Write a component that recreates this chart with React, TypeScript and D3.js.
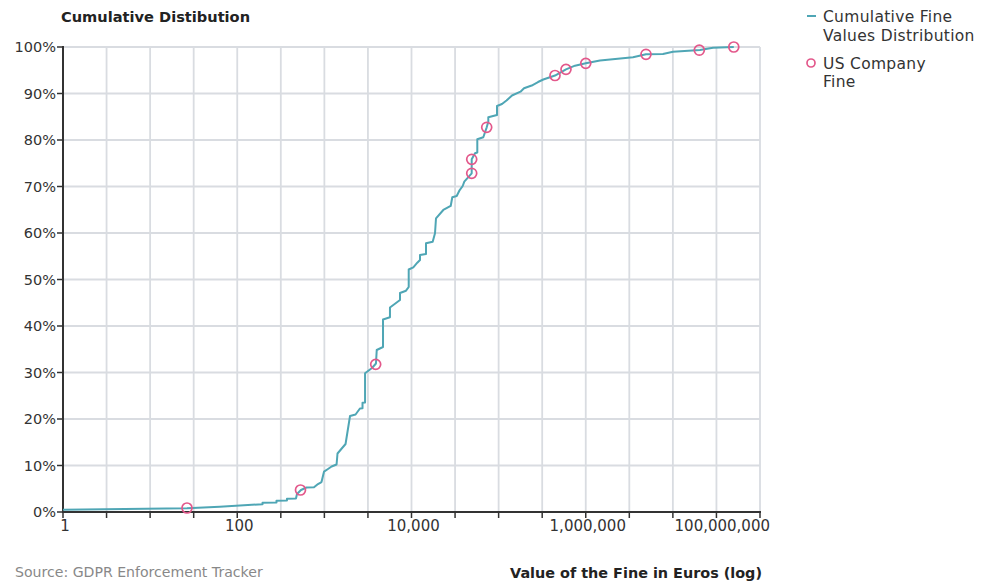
import React from "react";
import * as d3 from "d3";

// cumulative distribution of fine values
const fineValues = [
  1, 26.5, 63, 195, 195, 282, 282, 372, 372, 472, 485, 539, 623, 760, 845, 927,
  990, 1100, 1210, 1380, 1415, 1750, 1970, 2280, 2560, 2740, 2740, 2930, 2930,
  3520, 3910, 3990, 4710, 4710, 5660, 5660, 7380, 7380, 8650, 9290, 9290, 10490,
  11660, 12520, 12520, 14670, 14670, 17510, 18610, 19110, 23170, 28180, 29390,
  33030, 35380, 38700, 40360, 49090, 49090, 53560, 56920, 56920, 66700, 72970,
  76130, 76130, 95810, 95810, 109300, 123100, 142400, 178300, 195600, 239700,
  283100, 325600, 443600, 593300, 752500, 1000000, 1457000, 3485000, 4914000,
  7700000, 10030000, 20480000, 28880000, 50000000,
];
const cumulativeShare = [
  0.47, 0.8, 1.12, 1.68, 2.0, 2.06, 2.43, 2.47, 2.84, 2.9, 3.87, 4.73, 5.27, 5.31,
  6.02, 6.45, 8.67, 9.25, 9.78, 10.22, 12.58, 14.62, 20.65, 20.97, 22.26, 22.3,
  23.51, 23.55, 29.83, 30.97, 31.94, 34.84, 35.48, 41.4, 41.87, 43.98, 45.59, 47.1,
  47.59, 48.39, 52.15, 52.62, 53.61, 54.19, 55.27, 55.48, 57.78, 58.13, 59.94,
  63.16, 64.95, 65.81, 67.68, 67.96, 69.1, 70.11, 71.03, 72.84, 75.85, 77.14,
  77.31, 80.15, 80.58, 82.73, 83.94, 84.88, 85.38, 87.31, 87.74, 88.49, 89.57,
  90.39, 91.12, 91.72, 92.47, 93.01, 93.87, 95.2, 95.98, 96.49, 97.1, 97.78,
  98.43, 98.49, 98.99, 99.35, 99.83, 100,
];

// fines against US companies
const usFineValues = [
  26.5, 532, 3880, 49090, 49090, 72970, 443600, 593300, 1000000, 4914000,
  20100000, 50000000,
];
const usFineShare = [
  0.86, 4.73, 31.76, 72.84, 75.85, 82.73, 93.87, 95.2, 96.49, 98.43, 99.31, 100,
];

const xGridTicks = [
  1, 3.162, 10, 31.62, 100, 316.2, 1000, 3162, 10000, 31623, 100000, 316228,
  1000000, 3162278, 10000000, 31622777, 100000000,
];
const xLabelTicks = [1, 100, 10000, 1000000, 100000000];
const yTicks = [0, 10, 20, 30, 40, 50, 60, 70, 80, 90, 100];

const lineColor = "#4fa6b5";
const dotColor = "#e3588b";
const gridColor = "#d9dce1";
const axisColor = "#333333";
const font = "'DejaVu Sans', sans-serif";

const App = () => {
  const width = 987;
  const height = 582;
  const margin = { top: 47, right: 227, bottom: 70, left: 63 };

  const x = d3.scaleLog()
    .domain([1, 100000000])
    .range([margin.left, width - margin.right]);

  const y = d3.scaleLinear()
    .domain([0, 100])
    .range([height - margin.bottom, margin.top]);

  const fmt = d3.format(",");

  const points = fineValues.map((v, i) => [v, cumulativeShare[i]] as [number, number]);
  const line = d3.line<[number, number]>()
    .x(d => x(d[0]))
    .y(d => y(d[1]));

  const x0 = x.range()[0];
  const x1 = x.range()[1];
  const y0 = y.range()[0];
  const y1 = y.range()[1];

  return (
    <svg width={width} height={height}
      style={{ position: "absolute", left: 0, top: 0, background: "white" }}
      fontFamily={font}>
      <text x={61} y={22} fontSize="14.6" fontWeight="bold" fill="#222">
        Cumulative Distibution
      </text>

      {/* grid */}
      {yTicks.filter(t => t > 0).map(t =>
        <line key={"gy" + t} x1={x0} x2={x1} y1={y(t)} y2={y(t)}
          stroke={gridColor} strokeWidth="1.8" />)}
      {xGridTicks.filter(t => t > 1).map(t =>
        <line key={"gx" + t} x1={x(t)} x2={x(t)} y1={y1} y2={y0}
          stroke={gridColor} strokeWidth="1.8" />)}

      {/* y axis */}
      <line x1={x0} x2={x0} y1={y1 - 1} y2={y0} stroke={axisColor} strokeWidth="2" />
      {yTicks.map(t =>
        <g key={"yt" + t} transform={`translate(0, ${y(t)})`}>
          <line x1={x0 - 6} x2={x0} stroke={axisColor} strokeWidth="1.5" />
          <text x={x0 - 7} y={5} textAnchor="end" fontSize="14.5" fill="#333">{t}%</text>
        </g>)}

      {/* x axis */}
      <line x1={x0 - 1} x2={x1 + 1} y1={y0} y2={y0} stroke={axisColor} strokeWidth="2" />
      {xGridTicks.map(t =>
        <line key={"xt" + t} x1={x(t)} x2={x(t)} y1={y0} y2={y0 + 6}
          stroke={axisColor} strokeWidth="1.5" />)}
      {xLabelTicks.map((t, i) =>
        <text key={"xl" + t}
          x={i === xLabelTicks.length - 1 ? x(t) + 10 : x(t) + 2}
          y={y0 + 19}
          textAnchor={i === xLabelTicks.length - 1 ? "end" : "middle"}
          fontSize="15" fill="#333">{fmt(t)}</text>)}

      {/* data */}
      <path d={line(points) ?? ""} fill="none" stroke={lineColor} strokeWidth="2"
        strokeLinejoin="round" />
      {usFineValues.map((v, i) =>
        <circle key={"c" + i} cx={x(v)} cy={y(usFineShare[i])} r="5"
          fill="none" stroke={dotColor} strokeWidth="1.7" />)}

      {/* legend */}
      <line x1={807} x2={816} y1={16} y2={16} stroke={lineColor} strokeWidth="2" />
      <text x={823} y={22} fontSize="15.5" letterSpacing="0.3" fill="#333">Cumulative Fine</text>
      <text x={823} y={41} fontSize="15.5" letterSpacing="0.3" fill="#333">Values Distribution</text>
      <circle cx={811} cy={63} r="4" fill="none" stroke={dotColor} strokeWidth="1.7" />
      <text x={823} y={69} fontSize="15.5" letterSpacing="0.3" fill="#333">US Company</text>
      <text x={823} y={87} fontSize="15.5" letterSpacing="0.3" fill="#333">Fine</text>

      {/* footer */}
      <text x={15} y={577} fontSize="14.1" fill="#888">Source: GDPR Enforcement Tracker</text>
      <text x={762} y={578} fontSize="14.4" fontWeight="bold" textAnchor="end" fill="#222">
        Value of the Fine in Euros (log)
      </text>
    </svg>
  );
};

export default App;
